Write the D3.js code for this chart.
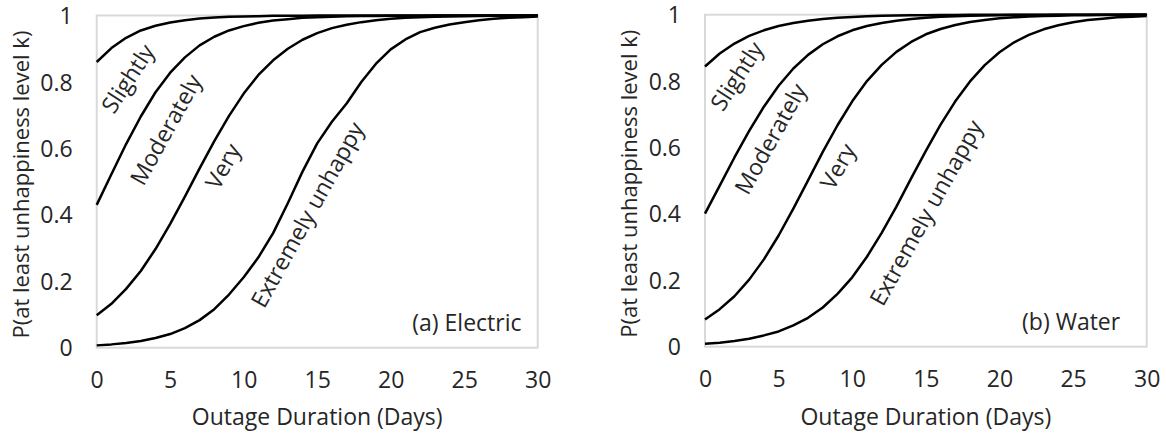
<!DOCTYPE html>
<html>
<head>
<meta charset="utf-8">
<script src="https://cdn.jsdelivr.net/npm/d3@7"></script>
<style>
  body { margin: 0; background: #fff; }
  text { font-family: "Open Sans", sans-serif; fill: #262626; }
</style>
</head>
<body>
<div id="chart"></div>
<script>
// outage duration in days (x values of every curve)
var days = [0,1,2,3,4,5,6,7,8,9,10,11,12,13,14,15,16,17,18,19,20,21,22,23,24,25,26,27,28,29,30];

var levels = ["Slightly", "Moderately", "Very", "Extremely unhappy"];

// (a) electric
var electricSlightly = [0.860,0.902,0.933,0.955,0.969,0.979,0.986,0.991,0.994,0.996,0.997,0.998,0.999,0.999,0.9995,0.9997,0.9998,0.9999,1,1,1,1,1,1,1,1,1,1,1,1,1];
var electricModerately = [0.430,0.522,0.613,0.696,0.769,0.828,0.874,0.910,0.936,0.955,0.968,0.978,0.985,0.989,0.993,0.995,0.9965,0.9976,0.9983,0.9988,0.9992,0.9994,0.9996,0.9997,0.9998,0.9999,1,1,1,1,1];
var electricVery = [0.098,0.132,0.177,0.231,0.297,0.373,0.455,0.540,0.622,0.698,0.765,0.821,0.865,0.900,0.927,0.947,0.962,0.972,0.980,0.986,0.990,0.993,0.995,0.996,0.997,0.998,0.9987,0.9991,0.9993,0.9995,0.9997];
var electricExtremely = [0.007,0.010,0.014,0.020,0.029,0.041,0.059,0.083,0.116,0.160,0.212,0.272,0.345,0.435,0.530,0.615,0.680,0.735,0.800,0.855,0.898,0.928,0.950,0.963,0.973,0.980,0.986,0.990,0.993,0.995,0.997];

// (b) water
var waterSlightly = [0.844,0.883,0.913,0.936,0.953,0.966,0.975,0.982,0.987,0.991,0.993,0.995,0.9965,0.9975,0.9982,0.9987,0.9991,0.9993,0.9995,0.9997,0.9998,0.9999,1,1,1,1,1,1,1,1,1];
var waterModerately = [0.401,0.485,0.570,0.650,0.723,0.786,0.838,0.879,0.911,0.935,0.953,0.966,0.975,0.982,0.987,0.991,0.9936,0.9954,0.9967,0.9977,0.9983,0.9988,0.9992,0.9994,0.9996,0.9997,0.9998,0.9998,0.9999,0.9999,1];
var waterVery = [0.082,0.113,0.152,0.202,0.263,0.335,0.416,0.501,0.587,0.667,0.739,0.800,0.849,0.888,0.918,0.941,0.957,0.969,0.978,0.984,0.989,0.992,0.9944,0.9960,0.9972,0.9980,0.9986,0.9990,0.9993,0.9995,0.9996];
var waterExtremely = [0.009,0.012,0.017,0.024,0.034,0.046,0.064,0.087,0.118,0.159,0.209,0.271,0.343,0.422,0.507,0.590,0.669,0.739,0.799,0.848,0.887,0.917,0.939,0.956,0.968,0.977,0.984,0.988,0.992,0.994,0.996];

var xTicks = [0,5,10,15,20,25,30];
var yTicks = [0,0.2,0.4,0.6,0.8,1];
var yTickLabels = ["0","0.2","0.4","0.6","0.8","1"];

var xTitle = "Outage Duration (Days)";
var yTitle = "P(at least unhappiness level k)";

// panel layout, label spots are given in data units (day, probability, angle)
var panels = [
  {name: "(a) Electric", series: [electricSlightly, electricModerately, electricVery, electricExtremely],
   left: 96.7, right: 537.7, top: 15.5, bottom: 347.7, tagX: 28.9, tagY: 0.05,
   labelPos: [[2.13,0.81,-57],[4.71,0.656,-61],[8.6,0.546,-61],[14.34,0.40,-61]]},
  {name: "(b) Water", series: [waterSlightly, waterModerately, waterVery, waterExtremely],
   left: 705, right: 1146.7, top: 14.7, bottom: 346.7, tagX: 28.2, tagY: 0.05,
   labelPos: [[2.17,0.815,-57],[4.46,0.626,-61],[9.04,0.543,-61],[15.03,0.403,-61]]}
];

var width = 1166, height = 434;
var fs = "23px";

var svg = d3.select("#chart").append("svg")
    .attr("width", width)
    .attr("height", height);

panels.forEach(function(p){
  var x = d3.scaleLinear().domain([0,30]).range([p.left, p.right]);
  var y = d3.scaleLinear().domain([0,1]).range([p.bottom, p.top]);
  var g = svg.append("g");

  // plot area border
  g.append("rect")
    .attr("x", x(0)).attr("y", y(1))
    .attr("width", x(30)-x(0)).attr("height", y(0)-y(1))
    .attr("fill", "none")
    .attr("stroke", "#d9d9d9")
    .attr("stroke-width", 2);

  // axes (labels only, Excel style)
  var xAxis = g.append("g")
    .attr("transform", "translate(0," + y(0) + ")")
    .call(d3.axisBottom(x).tickValues(xTicks).tickSize(0).tickPadding(0));
  xAxis.select(".domain").remove();
  xAxis.selectAll("text")
    .attr("y", 40).attr("dy", 0)
    .style("font-size", fs)
    .style("font-family", "Open Sans, sans-serif")
    .attr("fill", "#262626");

  var yAxis = g.append("g")
    .attr("transform", "translate(" + (x(0)-24) + ",0)")
    .call(d3.axisLeft(y).tickValues(yTicks).tickSize(0).tickPadding(0)
      .tickFormat(function(d,i){ return yTickLabels[i]; }));
  yAxis.select(".domain").remove();
  yAxis.selectAll("text")
    .attr("dy", "0.35em")
    .style("font-size", fs)
    .style("font-family", "Open Sans, sans-serif")
    .attr("fill", "#262626");

  // curves
  var line = d3.line()
    .x(function(d,i){ return x(days[i]); })
    .y(function(d){ return y(d); });

  g.selectAll("path.curve")
    .data(p.series)
    .enter().append("path")
    .attr("class", "curve")
    .attr("d", line)
    .attr("fill", "none")
    .attr("stroke", "#000")
    .attr("stroke-width", 2.5)
    .attr("stroke-linejoin", "round");

  // curve labels
  g.selectAll("text.lvl")
    .data(levels)
    .enter().append("text")
    .attr("class", "lvl")
    .attr("transform", function(d,i){
      var lp = p.labelPos[i];
      return "translate(" + x(lp[0]) + "," + y(lp[1]) + ") rotate(" + lp[2] + ")";
    })
    .attr("text-anchor", "middle")
    .attr("dy", "0.35em")
    .style("font-size", fs)
    .text(function(d){ return d; });

  // panel tag
  g.append("text")
    .attr("x", x(p.tagX)).attr("y", y(p.tagY))
    .attr("text-anchor", "end")
    .style("font-size", fs)
    .text(p.name);

  // axis titles
  g.append("text")
    .attr("x", (p.left+p.right)/2).attr("y", 425)
    .attr("text-anchor", "middle")
    .style("font-size", fs)
    .text(xTitle);

  g.append("text")
    .attr("transform", "translate(" + (p.left-68) + "," + ((p.top+p.bottom)/2 + 3) + ") rotate(-90)")
    .attr("text-anchor", "middle")
    .style("font-size", "22px")
    .text(yTitle);
});
</script>
</body>
</html>
